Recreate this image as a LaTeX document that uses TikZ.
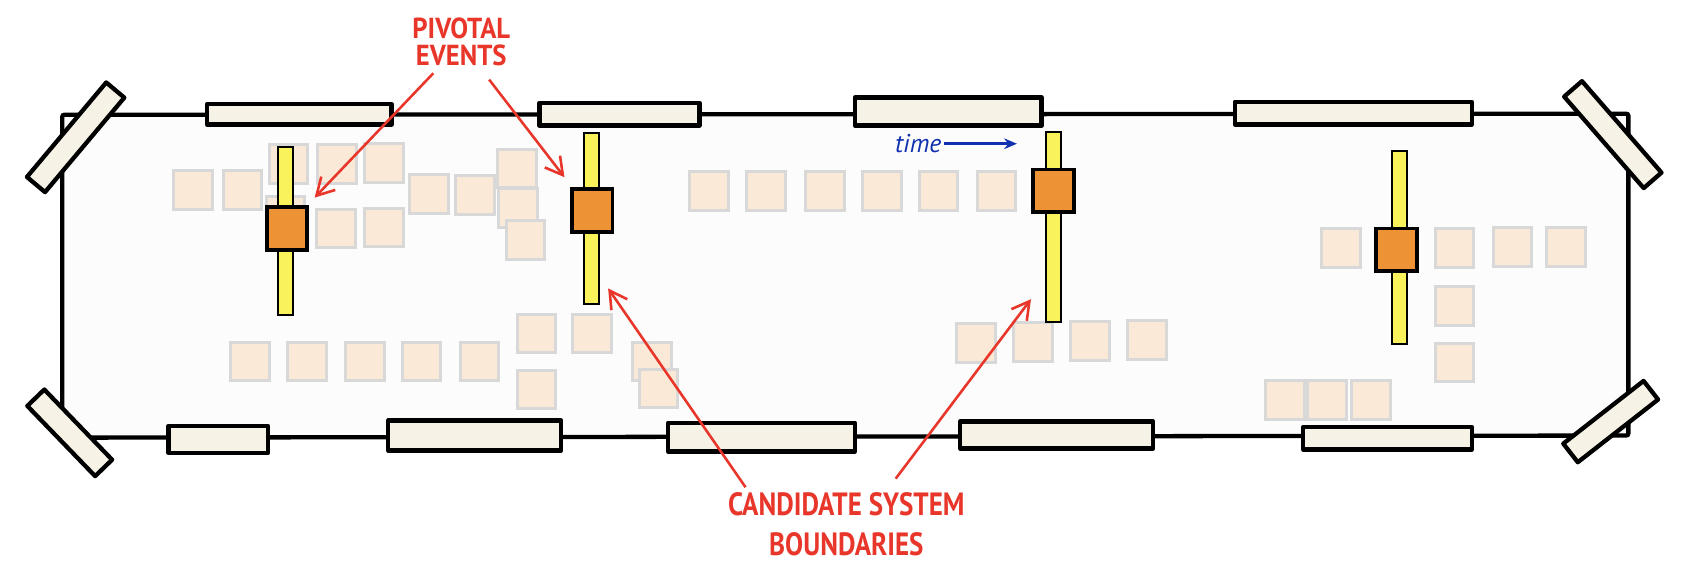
\documentclass[tikz,border=0pt]{standalone}
\usepackage{fontspec}
\newfontfamily\handfont{PT Sans}
\usetikzlibrary{arrows.meta, positioning}
\definecolor{paperwhite}{RGB}{252,252,252}
\definecolor{tapecream}{RGB}{247,242,230}
\definecolor{notepeach}{RGB}{250,233,214}
\definecolor{notegray}{RGB}{216,216,216}
\definecolor{baryellow}{RGB}{250,242,90}
\definecolor{pivotorange}{RGB}{238,146,54}
\definecolor{markerred}{RGB}{232,55,42}
\definecolor{markerblue}{RGB}{16,48,176}

\begin{document}
\begin{tikzpicture}[
  x=0.5pt, y=-0.5pt,
  paper/.style={draw=black, line width=2pt, fill=paperwhite, rounded corners=1pt},
  tape/.style={draw=black, line width=2pt, fill=tapecream, line join=round},
  note/.style={draw=notegray, line width=1.4pt, fill=notepeach},
  bar/.style={draw=black, line width=0.9pt, fill=baryellow, inner sep=0pt, minimum width=7pt},
  pivot/.style={draw=black, line width=1.8pt, fill=pivotorange, inner sep=0pt,
                minimum width=19pt, minimum height=20pt},
  redlabel/.style={text=markerred, align=center, inner sep=1pt},
  bluelabel/.style={text=markerblue, font=\handfont\itshape\fontsize{12}{12}\selectfont, inner sep=1pt},
  redarr/.style={-{Straight Barb[length=8pt, width=9pt]}, draw=markerred, line width=1.2pt},
  bluearr/.style={-{Stealth[length=6pt, width=5pt, inset=2pt]}, draw=markerblue, line width=1.2pt}
]
  \useasboundingbox (0,0) rectangle (1568,535);

  % the paper roll on the wall
  \draw[paper] (58,107) -- (1518,106) -- (1518,406) -- (58,408) -- cycle;

  % tape along the edges
  \draw[tape] (193,97) rectangle (365,116);
  \draw[tape] (503,96) rectangle (652,117);
  \draw[tape] (797,91) rectangle (971,117);
  \draw[tape] (1151,95) rectangle (1372,116);
  \draw[tape] (157,397) rectangle (250,422);
  \draw[tape] (362,392) rectangle (523,420);
  \draw[tape] (623,394) rectangle (797,421);
  \draw[tape] (895,393) rectangle (1075,418);
  \draw[tape] (1215,398) rectangle (1372,419);
  \draw[tape, rotate around={50:(70.5,128)}] (13,117) rectangle (128,139);
  \draw[tape, rotate around={-46:(65,403.5)}] (19.5,392.5) rectangle (110.5,414.5);
  \draw[tape, rotate around={-49:(1503.5,125.5)}] (1447,114.5) rectangle (1560,136.5);
  \draw[tape, rotate around={38:(1501.5,393)}] (1454,382) rectangle (1549,404);

  % sticky notes
  \foreach \nx/\ny in {180/177, 226/177, 269/153, 314/153, 358/152, 400/181, 443/182,
                       482/157, 483/194, 490/224, 266/201, 313/213, 358/212,
                       661/178, 714/178, 769/178, 822/178, 875/178, 929/178,
                       233/337, 286/337, 340/337, 393/337, 447/337, 500/311, 552/311,
                       608/337, 614/362, 500/363,
                       910/320, 963/319, 1016/318, 1069/317,
                       1250/231, 1356/231, 1410/230, 1460/230, 1356/285, 1356/338,
                       1198/373, 1237/373, 1278/373}
    \draw[note] (\nx-18,\ny-18) rectangle (\nx+18,\ny+18);

  % boundaries and pivotal events
  \node[bar, minimum height=78.5pt] (bar1) at (266,215.5) {};
  \node[bar, minimum height=79.5pt] (bar2) at (551,203.5) {};
  \node[bar, minimum height=88.5pt] (bar3) at (982,211.5) {};
  \node[bar, minimum height=90pt]   (bar4) at (1305,231) {};
  \node[pivot] (pivot1) at (267.5,213) {};
  \node[pivot] (pivot2) at (552,196) {};
  \node[pivot] (pivot3) at (982,178) {};
  \node[pivot] (pivot4) at (1302,233) {};

  % labels
  \node[redlabel, font=\handfont\bfseries\fontsize{13.5}{13}\selectfont, xscale=0.92] (pivtext) at (430,39)
    {PIVOTAL\\EVENTS};
  \node[redlabel, font=\handfont\bfseries\fontsize{15}{18.5}\selectfont, xscale=0.84] (candtext) at (789,489)
    {CANDIDATE SYSTEM\\BOUNDARIES};
  \node[bluelabel] (timetext) at (856,134) {time};
  \coordinate (timeend) at (948,134);

  \draw[redarr] ([xshift=-13pt, yshift=-2pt]pivtext.south) -- ([shift={(2.5pt,3.5pt)}]pivot1.north east);
  \draw[redarr] ([xshift=13pt, yshift=-5pt]pivtext.south) -- ([shift={(-2.5pt,4.5pt)}]pivot2.north west);
  \draw[redarr] ([xshift=-47pt, yshift=1.5pt]candtext.north) -- ([shift={(4pt,7.5pt)}]bar2.south east);
  \draw[redarr] ([xshift=23pt, yshift=5.5pt]candtext.north) -- ([shift={(-6.5pt,11pt)}]bar3.south west);
  \draw[bluearr] (timetext) -- (timeend);
\end{tikzpicture}
\end{document}
